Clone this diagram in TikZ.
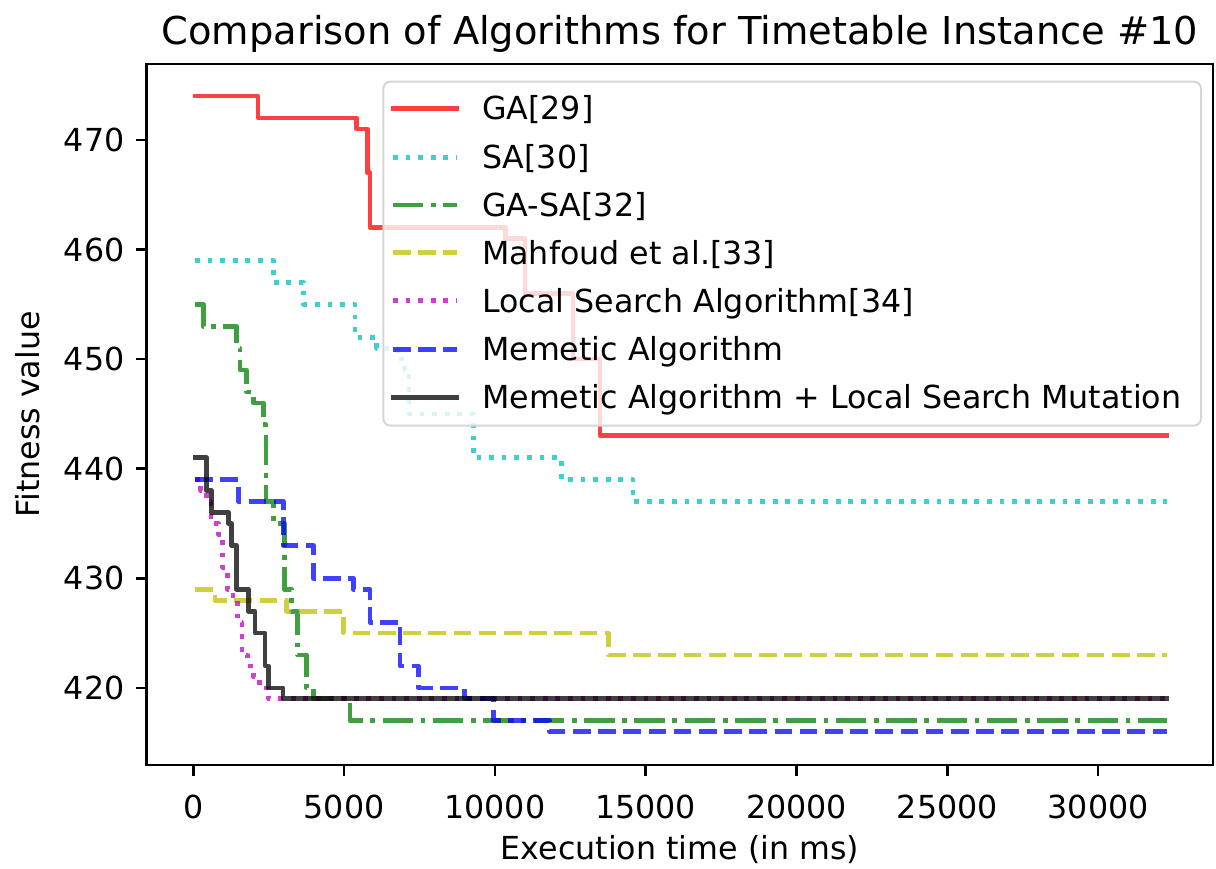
\documentclass[tikz,border=0pt]{standalone}
\usepackage{fontspec}
\setmainfont{DejaVu Sans}
\definecolor{mr}{RGB}{255,0,0}
\definecolor{mc}{RGB}{0,191,191}
\definecolor{mg}{RGB}{0,128,0}
\definecolor{my}{RGB}{191,191,0}
\definecolor{mm}{RGB}{191,0,191}
\definecolor{mb}{RGB}{0,0,255}
\definecolor{mk}{RGB}{0,0,0}
\definecolor{legedge}{RGB}{214,214,214}
\begin{document}
\begin{tikzpicture}[x=1pt,y=-1pt,
  curve/.style={line width=4.75pt, line join=round, draw opacity=0.75},
  mplsolid/.style={line cap=rect},
  mpldashed/.style={dash pattern=on 17.6pt off 7.6pt},
  mpldotted/.style={dash pattern=on 4.75pt off 7.85pt},
  mpldashdot/.style={dash pattern=on 30.4pt off 7.6pt on 4.75pt off 7.6pt},
  gaS/.style={curve, mplsolid, draw=mr},
  saS/.style={curve, mpldotted, draw=mc},
  gasaS/.style={curve, mpldashdot, draw=mg},
  mahS/.style={curve, mpldashed, draw=my},
  lsS/.style={curve, mpldotted, draw=mm},
  maS/.style={curve, mpldashed, draw=mb},
  malsS/.style={curve, mplsolid, draw=mk},
  txt/.style={inner sep=0pt, font=\fontsize{31.7}{38}\selectfont},
  ticktxt/.style={txt},
  tickline/.style={line width=2.5pt},
]
\useasboundingbox (0,0) rectangle (1216,869);

% ---------- curves (data: t in units of 1000 ms, fitness value) ----------
\begin{scope}[shift={(195,5291.1)}, x=29.3pt, y=10.96pt]
\draw[gaS] (0,474) -- (2.15,474) -- (2.15,472) -- (5.52,472) -- (5.52,471) -- (5.88,471) -- (5.88,467) -- (5.97,467) -- (5.97,462) -- (10.6,462) -- (10.6,461) -- (11.26,461) -- (11.26,456) -- (12.9,456) -- (12.9,450) -- (13.82,450) -- (13.82,443) -- (33.17,443);
\draw[saS] (0,459) -- (2.67,459) -- (2.67,457) -- (3.7,457) -- (3.7,455) -- (5.46,455) -- (5.46,452) -- (6.2,452) -- (6.2,451) -- (6.9,451) -- (6.9,450) -- (7.15,450) -- (7.15,449) -- (7.3,449) -- (7.3,445) -- (9.5,445) -- (9.5,441) -- (12.5,441) -- (12.5,439) -- (14.95,439) -- (14.95,437) -- (33.17,437);
\draw[gasaS] (0,455) -- (0.28,455) -- (0.28,453) -- (1.42,453) -- (1.42,451) -- (1.54,451) -- (1.54,449) -- (1.76,449) -- (1.76,447) -- (1.99,447) -- (1.99,446) -- (2.33,446) -- (2.33,444) -- (2.42,444) -- (2.42,437) -- (2.67,437) -- (2.67,435) -- (3.05,435) -- (3.05,429) -- (3.3,429) -- (3.3,427) -- (3.5,427) -- (3.5,423) -- (3.8,423) -- (3.8,420) -- (4.04,420) -- (4.04,419) -- (5.29,419) -- (5.29,417) -- (33.17,417);
\draw[mahS] (0,429) -- (0.68,429) -- (0.68,428) -- (3.13,428) -- (3.13,427) -- (5.06,427) -- (5.06,425) -- (14.1,425) -- (14.1,423) -- (33.17,423);
\draw[lsS] (0,439) -- (0.2,439) -- (0.2,438) -- (0.4,438) -- (0.4,437) -- (0.55,437) -- (0.55,435) -- (0.8,435) -- (0.8,434) -- (0.95,434) -- (0.95,431) -- (1.1,431) -- (1.1,429) -- (1.3,429) -- (1.3,428) -- (1.45,428) -- (1.45,426) -- (1.6,426) -- (1.6,423) -- (1.8,423) -- (1.8,422) -- (2.0,422) -- (2.0,421) -- (2.2,421) -- (2.2,420) -- (2.5,420) -- (2.5,419) -- (33.17,419);
\draw[maS] (0,439) -- (1.48,439) -- (1.48,437) -- (3.01,437) -- (3.01,433) -- (4.04,433) -- (4.04,430) -- (5.4,430) -- (5.4,429) -- (5.97,429) -- (5.97,426) -- (7.0,426) -- (7.0,422) -- (7.62,422) -- (7.62,420) -- (9.2,420) -- (9.2,419) -- (10.2,419) -- (10.2,417) -- (12.1,417) -- (12.1,416) -- (33.17,416);
\draw[malsS] (0,441) -- (0.4,441) -- (0.4,438) -- (0.57,438) -- (0.57,436) -- (1.14,436) -- (1.14,435) -- (1.25,435) -- (1.25,433) -- (1.42,433) -- (1.42,429) -- (1.82,429) -- (1.82,427) -- (2.05,427) -- (2.05,425) -- (2.39,425) -- (2.39,422) -- (2.5,422) -- (2.5,420) -- (3.0,420) -- (3.0,419) -- (33.17,419);
\end{scope}

% ---------- axes frame ----------
\draw[tickline] (146.7,64) rectangle (1213,765);

% y ticks
\foreach \v/\py in {470/139.9, 460/249.5, 450/359.1, 440/468.7, 430/578.3, 420/687.9}{
  \draw[tickline] (146.7,\py) -- (135.7,\py);
  \node[ticktxt, anchor=east] (ytick\v) at (124.7,\py) {\v};
}
% x ticks
\foreach \t/\px in {0/193.3, 5000/344.1, 10000/494.9, 15000/645.7, 20000/796.5, 25000/947.3, 30000/1098.1}{
  \draw[tickline] (\px,765) -- (\px,776);
  \node[ticktxt, anchor=base] (xtick\t) at (\px,818) {\t};
}

% ---------- labels ----------
\node[inner sep=0pt, font=\fontsize{38.4}{46}\selectfont, anchor=base] (title) at (680,45) {Comparison of Algorithms for Timetable Instance \#10};
\node[txt, anchor=base] (xlabel) at (680,859) {Execution time (in ms)};
\node[txt, anchor=base, rotate=90] (ylabel) at (39,414.5) {Fitness value};

% ---------- legend ----------
\draw[draw=legedge, line width=2pt, fill=white, fill opacity=0.8, rounded corners=7pt] (383.3,81.7) rectangle (1201,425.5);
\draw[gaS]   (393,108.3) -- (457,108.3);
\draw[saS]   (393,157.3) -- (457,157.3);
\draw[gasaS] (393,205.0) -- (457,205.0);
\draw[mahS]  (393,252.7) -- (457,252.7);
\draw[lsS]   (393,300.7) -- (457,300.7);
\draw[maS]   (393,349.3) -- (457,349.3);
\draw[malsS] (393,397.3) -- (457,397.3);
\node[txt, anchor=base west] (lga)   at (482,119.8) {GA[29]};
\node[txt, anchor=base west] (lsa)   at (482,168.8) {SA[30]};
\node[txt, anchor=base west] (lgasa) at (482,216.5) {GA-SA[32]};
\node[txt, anchor=base west] (lmah)  at (482,264.2) {Mahfoud et al.[33]};
\node[txt, anchor=base west] (lls)   at (482,312.2) {Local Search Algorithm[34]};
\node[txt, anchor=base west] (lma)   at (482,360.8) {Memetic Algorithm};
\node[txt, anchor=base west] (lmals) at (482,408.8) {Memetic Algorithm + Local Search Mutation};
\end{tikzpicture}
\end{document}
